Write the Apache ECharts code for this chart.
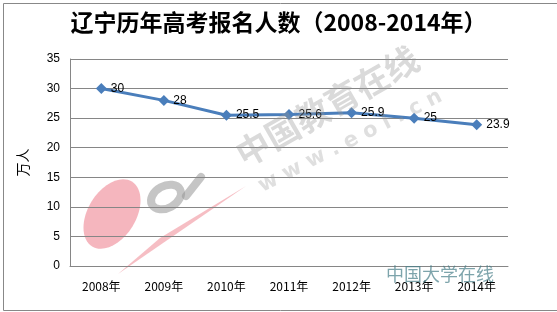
<!DOCTYPE html>
<html>
<head>
<meta charset="utf-8">
<script src="https://cdn.jsdelivr.net/npm/echarts@6/dist/echarts.min.js"></script>
<style>
  html, body { margin: 0; padding: 0; background: #fff; }
  #chart { width: 557px; height: 312px; }
</style>
</head>
<body>
<div id="chart"></div>
<script>
// 年份 / 报名人数（万人）
var years = ['2008年', '2009年', '2010年', '2011年', '2012年', '2013年', '2014年'];
var applicants = [30, 28, 25.5, 25.6, 25.9, 25, 23.9];
var yTicks = { min: 0, max: 35, interval: 5 };

var myChart = echarts.init(document.getElementById('chart'));

var option = {
    backgroundColor: '#fff',
    animation: false,
    title: {
        text: '辽宁历年高考报名人数（2008-2014年）',
        left: 'center',
        top: 6,
        textStyle: {
            fontFamily: 'Noto Sans CJK SC',
            fontSize: 23,
            fontWeight: 'bold',
            color: '#000'
        }
    },
    grid: { left: 70, right: 49, top: 59, bottom: 46 },
    // 外框 + 水印（eol 标志）
    graphic: [
        {
            type: 'rect', left: 1, top: 1, z: -10,
            shape: { width: 554, height: 307 },
            style: { fill: 'none', stroke: '#888', lineWidth: 1 }
        },
        {
            type: 'ellipse', z: -5,
            x: 112, y: 214, rotation: -0.55,
            shape: { cx: 0, cy: 0, rx: 24, ry: 38 },
            style: { fill: 'rgba(235,110,125,0.5)' }
        },
        {
            type: 'polygon', z: -5,
            shape: { points: [[118, 274], [246, 186], [160, 238]] },
            style: { fill: 'rgba(235,110,125,0.45)' }
        },
        {
            type: 'ellipse', z: -5,
            x: 166, y: 197, rotation: 0.5,
            shape: { cx: 0, cy: 0, rx: 16, ry: 11 },
            style: { fill: 'none', stroke: 'rgba(150,150,150,0.55)', lineWidth: 8 }
        },
        {
            type: 'line', z: -5,
            shape: { x1: 186, y1: 196, x2: 201, y2: 177 },
            style: { stroke: 'rgba(150,150,150,0.55)', lineWidth: 8, lineCap: 'round' }
        },
        {
            type: 'text', left: 386, top: 265, z: 10,
            style: { text: '中国大学在线', fill: 'rgba(70,125,135,0.7)', font: '18px "Noto Sans CJK SC"' }
        },
        {
            type: 'text', x: 230, y: 142, rotation: 0.52, z: 10,
            style: { text: '中国教育在线', fill: 'rgba(150,150,150,0.35)', font: 'bold 34px "Noto Sans CJK SC"' }
        },
        {
            type: 'text', x: 255, y: 178, rotation: 0.47, z: 10,
            style: { text: 'w w w . e o l . c n', fill: 'rgba(150,150,150,0.3)', font: 'bold 21px "DejaVu Sans"' }
        }
    ],
    xAxis: {
        type: 'category',
        data: years,
        boundaryGap: true,
        axisLine: { lineStyle: { color: '#868686' } },
        axisTick: { show: false },
        axisLabel: { color: '#000', fontSize: 12, margin: 14, fontFamily: 'Noto Sans CJK SC' }
    },
    yAxis: {
        type: 'value',
        name: '万人',
        nameLocation: 'middle',
        nameGap: 40,
        nameRotate: 90,
        nameTextStyle: { color: '#000', fontSize: 14, fontFamily: 'Noto Sans CJK SC' },
        min: yTicks.min,
        max: yTicks.max,
        interval: yTicks.interval,
        axisLine: { show: true, lineStyle: { color: '#868686' } },
        axisTick: { show: false },
        axisLabel: { color: '#000', fontSize: 12, margin: 10 },
        splitLine: { lineStyle: { color: '#868686' } }
    },
    series: [
        {
            name: '报名人数',
            type: 'line',
            data: applicants,
            symbol: 'diamond',
            symbolSize: 11,
            lineStyle: { color: '#4A7EBB', width: 3 },
            itemStyle: { color: '#4A7EBB' },
            label: {
                show: true,
                position: 'right',
                distance: 4,
                color: '#000',
                fontSize: 12
            }
        }
    ]
};

myChart.setOption(option);
</script>
</body>
</html>
